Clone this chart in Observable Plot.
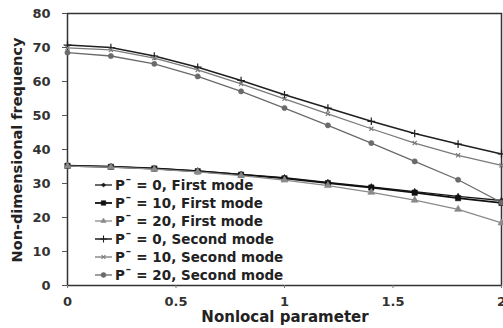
<!DOCTYPE html>
<html>
<head>
<meta charset="utf-8">
<script src="https://cdn.jsdelivr.net/npm/d3@7"></script>
<script src="https://cdn.jsdelivr.net/npm/@observablehq/plot@0.6"></script>
<style>
  html, body { margin: 0; padding: 0; background: #fff; }
  #chart svg { display: block; }
</style>
</head>
<body>
<div id="chart"></div>
<script>
// Nonlocal parameter values where each frequency was computed
const nonlocal = [0, 0.2, 0.4, 0.6, 0.8, 1.0, 1.2, 1.4, 1.6, 1.8, 2.0];

// First-mode non-dimensional frequency for P̄ = 0, 10, 20
const firstP0  = [35.3, 35.0, 34.5, 33.7, 32.7, 31.7, 30.3, 29.0, 27.6, 26.2, 25.0];
const firstP10 = [35.2, 34.9, 34.4, 33.6, 32.6, 31.5, 30.1, 28.8, 27.3, 25.7, 24.3];
const firstP20 = [35.1, 34.8, 34.2, 33.4, 32.3, 31.0, 29.4, 27.4, 25.1, 22.4, 18.4];

// Second-mode non-dimensional frequency for P̄ = 0, 10, 20
const secondP0  = [70.7, 70.0, 67.5, 64.2, 60.3, 56.1, 52.2, 48.3, 44.7, 41.6, 38.7];
const secondP10 = [69.9, 69.3, 66.9, 63.4, 59.3, 54.9, 50.5, 46.1, 41.9, 38.3, 35.3];
const secondP20 = [68.5, 67.5, 65.2, 61.5, 57.1, 52.2, 47.1, 41.9, 36.5, 31.1, 24.4];

const yTicks = [0, 10, 20, 30, 40, 50, 60, 70, 80];
const xTicks = [0, 0.5, 1, 1.5, 2];
const xTickLabels = ["0", "0.5", "1", "1.5", "2"];

// Series styling: label, values, stroke, width, marker symbol, marker size
const series = [
  {label: "P\u00AF = 0, First mode",   values: firstP0,   stroke: "#1a1a1a", width: 1.3, symbol: "diamond",  r: 2.0, fill: "#1a1a1a"},
  {label: "P\u00AF = 10, First mode",  values: firstP10,  stroke: "#111111", width: 1.8, symbol: "square",   r: 3.0, fill: "#111111"},
  {label: "P\u00AF = 20, First mode",  values: firstP20,  stroke: "#8a8a8a", width: 1.3, symbol: "triangle", r: 2.6, fill: "#8a8a8a"},
  {label: "P\u00AF = 0, Second mode",  values: secondP0,  stroke: "#1f1f1f", width: 1.5, symbol: "plus",     r: 2.6, fill: "none"},
  {label: "P\u00AF = 10, Second mode", values: secondP10, stroke: "#7a7a7a", width: 1.3, symbol: "times",    r: 2.0, fill: "none"},
  {label: "P\u00AF = 20, Second mode", values: secondP20, stroke: "#6a6a6a", width: 1.3, symbol: "circle",   r: 2.6, fill: "#6a6a6a"}
];

const rows = series.flatMap((s, k) =>
  nonlocal.map((x, i) => ({x, y: s.values[i], k}))
);

const font = "'DejaVu Sans', Verdana, sans-serif";

const marks = [Plot.frame({stroke: "#333", strokeWidth: 1.5})];
series.forEach((s, k) => {
  const d = rows.filter(r => r.k === k);
  marks.push(Plot.line(d, {x: "x", y: "y", stroke: s.stroke, strokeWidth: s.width}));
  marks.push(Plot.dot(d, {
    x: "x", y: "y", symbol: () => s.symbol, r: s.r,
    fill: s.fill === "none" ? "none" : s.fill,
    stroke: s.stroke, strokeWidth: s.fill === "none" ? 1.2 : 0.6
  }));
});

marks.push(
  Plot.axisY({ticks: yTicks, tickSize: 5, tickPadding: 12, stroke: "#555",
    fontSize: 13, fontWeight: "bold", fill: "#333", label: null}),
  Plot.axisX({ticks: xTicks, tickFormat: (d, i) => xTickLabels[i], tickSize: 3, tickPadding: 8,
    stroke: "#777", fontSize: 13, fontWeight: "bold", fill: "#333", label: null})
);

const chart = Plot.plot({
  width: 503,
  height: 328,
  marginLeft: 67,
  marginRight: 2,
  marginTop: 13,
  marginBottom: 43,
  style: {fontFamily: font, background: "#fff"},
  x: {domain: [0, 2]},
  y: {domain: [0, 80]},
  marks
});

// Axis titles and the in-plot legend, drawn into the same SVG
const svg = d3.select(chart);
svg.append("text")
  .attr("x", 285).attr("y", 322)
  .attr("text-anchor", "middle")
  .attr("font-family", font).attr("font-size", 15).attr("font-weight", "bold")
  .attr("fill", "#222")
  .text("Nonlocal parameter");
svg.append("text")
  .attr("transform", "translate(22,150) rotate(-90)")
  .attr("text-anchor", "middle")
  .attr("font-family", font).attr("font-size", 14.5).attr("font-weight", "bold")
  .attr("fill", "#222")
  .text("Non-dimensional frequency");

const legend = svg.append("g").attr("transform", "translate(95,185)");
series.forEach((s, k) => {
  const g = legend.append("g").attr("transform", `translate(0,${k * 18})`);
  g.append("line").attr("x1", 0).attr("x2", 17).attr("y1", 0).attr("y2", 0)
    .attr("stroke", s.stroke).attr("stroke-width", s.width);
  const sym = {
    diamond: d3.symbolDiamond2, square: d3.symbolSquare2, triangle: d3.symbolTriangle2,
    plus: d3.symbolPlus, times: d3.symbolTimes, circle: d3.symbolCircle
  }[s.symbol];
  const filled = s.fill !== "none";
  g.append("path")
    .attr("transform", "translate(8.5,0)")
    .attr("d", d3.symbol(sym, Math.PI * s.r * s.r * (filled ? 0.9 : 0.9))())
    .attr("fill", filled ? s.fill : "none")
    .attr("stroke", s.stroke).attr("stroke-width", filled ? 0.6 : 1.1);
  g.append("text")
    .attr("x", 20).attr("y", 0).attr("dy", "0.36em")
    .attr("text-anchor", "start")
    .attr("font-family", font).attr("font-size", 13.5).attr("font-weight", "bold")
    .attr("fill", "#222")
    .text(s.label);
});

document.getElementById("chart").appendChild(chart);
</script>
</body>
</html>
